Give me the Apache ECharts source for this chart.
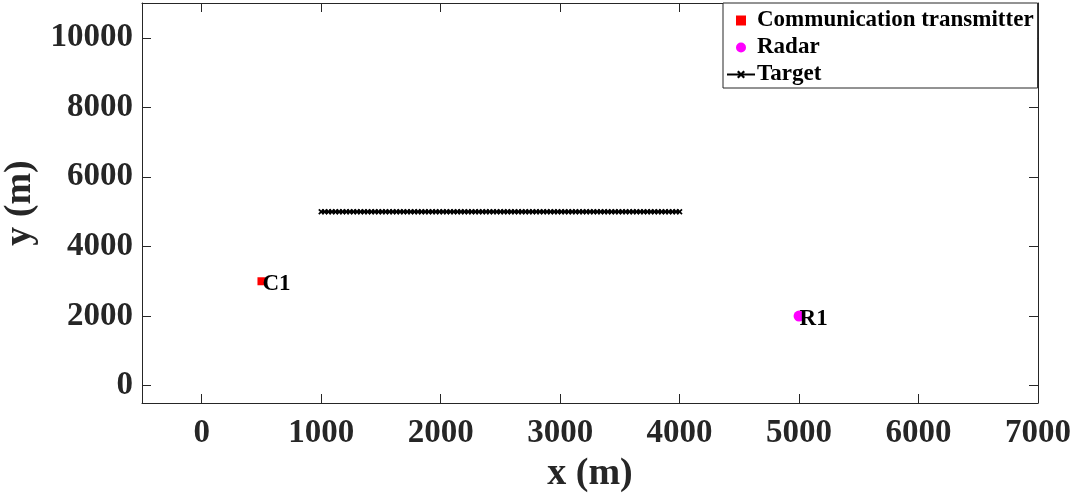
<!DOCTYPE html>
<html>
<head>
<meta charset="utf-8">
<script src="https://cdn.jsdelivr.net/npm/echarts@6/dist/echarts.min.js"></script>
<style>
  html, body { margin: 0; padding: 0; background: #fff; }
  #chart { width: 1077px; height: 497px; }
</style>
</head>
<body>
<div id="chart"></div>
<script>
// Communication transmitter position (m)
const commX = [500];
const commY = [3000];
const commLabel = 'C1';

// Radar position (m)
const radarX = [5000];
const radarY = [2000];
const radarLabel = 'R1';

// Target trajectory samples (m)
const targetX = [
  1000, 1030, 1060, 1090, 1120, 1150, 1180, 1210, 1240, 1270,
  1300, 1330, 1360, 1390, 1420, 1450, 1480, 1510, 1540, 1570,
  1600, 1630, 1660, 1690, 1720, 1750, 1780, 1810, 1840, 1870,
  1900, 1930, 1960, 1990, 2020, 2050, 2080, 2110, 2140, 2170,
  2200, 2230, 2260, 2290, 2320, 2350, 2380, 2410, 2440, 2470,
  2500, 2530, 2560, 2590, 2620, 2650, 2680, 2710, 2740, 2770,
  2800, 2830, 2860, 2890, 2920, 2950, 2980, 3010, 3040, 3070,
  3100, 3130, 3160, 3190, 3220, 3250, 3280, 3310, 3340, 3370,
  3400, 3430, 3460, 3490, 3520, 3550, 3580, 3610, 3640, 3670,
  3700, 3730, 3760, 3790, 3820, 3850, 3880, 3910, 3940, 3970,
  4000
];
const targetY = [
  5000, 5000, 5000, 5000, 5000, 5000, 5000, 5000, 5000, 5000,
  5000, 5000, 5000, 5000, 5000, 5000, 5000, 5000, 5000, 5000,
  5000, 5000, 5000, 5000, 5000, 5000, 5000, 5000, 5000, 5000,
  5000, 5000, 5000, 5000, 5000, 5000, 5000, 5000, 5000, 5000,
  5000, 5000, 5000, 5000, 5000, 5000, 5000, 5000, 5000, 5000,
  5000, 5000, 5000, 5000, 5000, 5000, 5000, 5000, 5000, 5000,
  5000, 5000, 5000, 5000, 5000, 5000, 5000, 5000, 5000, 5000,
  5000, 5000, 5000, 5000, 5000, 5000, 5000, 5000, 5000, 5000,
  5000, 5000, 5000, 5000, 5000, 5000, 5000, 5000, 5000, 5000,
  5000, 5000, 5000, 5000, 5000, 5000, 5000, 5000, 5000, 5000,
  5000
];

// Axis tick values
const xTicks = [0, 1000, 2000, 3000, 4000, 5000, 6000, 7000];
const yTicks = [0, 2000, 4000, 6000, 8000, 10000];

const seriesNames = ['Communication transmitter', 'Radar', 'Target'];

const FONT = '"Liberation Serif", "Times New Roman", serif';
const AXIS_COLOR = '#262626';
const CROSS = 'path://M0,2 L2,0 L5,3 L8,0 L10,2 L7,5 L10,8 L8,10 L5,7 L2,10 L0,8 L3,5 Z';
const SQUARE = 'path://M0,0 L10,0 L10,10 L0,10 Z';

const zip = (xs, ys) => xs.map((x, i) => [x, ys[i]]);
const plainNumber = (v) => String(v);

const chart = echarts.init(document.getElementById('chart'), null, { renderer: 'canvas' });

const baseX = {
  type: 'value', min: -500, max: 7000,
  axisLine: { show: true, onZero: false, lineStyle: { color: AXIS_COLOR, width: 1 } },
  splitLine: { show: false }
};
const baseY = {
  type: 'value', min: -500, max: 11000,
  axisLine: { show: true, onZero: false, lineStyle: { color: AXIS_COLOR, width: 1 } },
  splitLine: { show: false }
};

chart.setOption({
  animation: false,
  backgroundColor: '#ffffff',
  grid: { left: 142, right: 39, top: 3, bottom: 94, containLabel: false, outerBoundsMode: 'none' },
  legend: {
    orient: 'vertical',
    left: 723, top: 3,
    padding: [4, 4, 0, 3],
    itemGap: 0,
    itemWidth: 28,
    itemHeight: 10,
    symbolKeepAspect: true,
    backgroundColor: '#ffffff',
    borderColor: AXIS_COLOR,
    borderWidth: 1,
    borderRadius: 0,
    textStyle: { fontFamily: FONT, fontWeight: 'bold', fontSize: 23, color: '#000', lineHeight: 27, padding: [0, 0, 0, -3] },
    data: [
      { name: seriesNames[0], icon: SQUARE },
      { name: seriesNames[1], icon: 'circle' },
      { name: seriesNames[2] }
    ]
  },
  xAxis: [
    Object.assign({}, baseX, {
      position: 'bottom',
      name: 'x (m)', nameLocation: 'middle', nameGap: 50,
      nameTextStyle: { fontFamily: FONT, fontWeight: 'bold', fontSize: 38, color: AXIS_COLOR },
      axisTick: { show: true, inside: true, length: 9, customValues: xTicks, lineStyle: { color: AXIS_COLOR } },
      axisLabel: { show: true, customValues: xTicks, formatter: plainNumber, margin: 14, fontFamily: FONT, fontWeight: 'bold', fontSize: 33, color: AXIS_COLOR }
    }),
    Object.assign({}, baseX, {
      position: 'top',
      axisTick: { show: true, inside: true, length: 9, customValues: xTicks, lineStyle: { color: AXIS_COLOR } },
      axisLabel: { show: false }
    })
  ],
  yAxis: [
    Object.assign({}, baseY, {
      position: 'left',
      name: 'y (m)', nameLocation: 'middle', nameGap: 92,
      nameTextStyle: { fontFamily: FONT, fontWeight: 'bold', fontSize: 38, color: AXIS_COLOR },
      axisTick: { show: true, inside: true, length: 9, customValues: yTicks, lineStyle: { color: AXIS_COLOR } },
      axisLabel: { show: true, customValues: yTicks, formatter: plainNumber, margin: 9, fontFamily: FONT, fontWeight: 'bold', fontSize: 33, color: AXIS_COLOR }
    }),
    Object.assign({}, baseY, {
      position: 'right',
      axisTick: { show: true, inside: true, length: 9, customValues: yTicks, lineStyle: { color: AXIS_COLOR } },
      axisLabel: { show: false }
    })
  ],
  series: [
    {
      name: seriesNames[0],
      type: 'scatter',
      data: zip(commX, commY),
      symbol: 'rect',
      symbolSize: 8,
      itemStyle: { color: '#ff0000', opacity: 1 },
      label: {
        show: true, formatter: commLabel, position: [5, 7], align: 'left', verticalAlign: 'middle',
        fontFamily: FONT, fontWeight: 'bold', fontSize: 23, color: '#000'
      },
      z: 3
    },
    {
      name: seriesNames[1],
      type: 'scatter',
      data: zip(radarX, radarY),
      symbol: 'circle',
      symbolSize: 11,
      itemStyle: { color: '#ff00ff', opacity: 1 },
      label: {
        show: true, formatter: radarLabel, position: [6, 9], align: 'left', verticalAlign: 'middle',
        fontFamily: FONT, fontWeight: 'bold', fontSize: 23, color: '#000'
      },
      z: 3
    },
    {
      name: seriesNames[2],
      type: 'line',
      data: zip(targetX, targetY),
      symbol: CROSS,
      symbolSize: 6,
      showAllSymbol: true,
      lineStyle: { color: '#000', width: 1.5 },
      itemStyle: { color: '#000' },
      z: 2
    }
  ]
});
</script>
</body>
</html>
